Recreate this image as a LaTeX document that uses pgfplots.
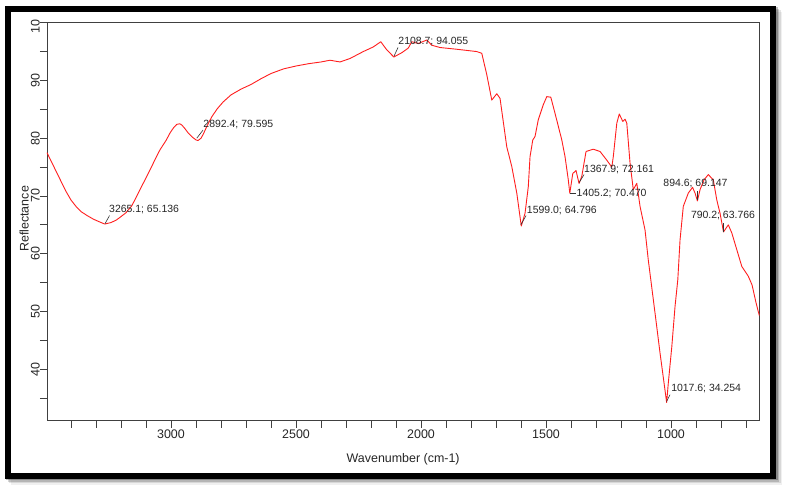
\documentclass[border=0pt]{standalone}
\usepackage{pgfplots}
\pgfplotsset{compat=1.18}
\usepackage{fontspec}
\setmainfont{Liberation Sans}
\definecolor{specred}{RGB}{255,30,30}
\begin{document}
\begin{tikzpicture}[x=1bp,y=1bp]
\useasboundingbox (0,0) rectangle (788,489);
\foreach \o/\op in {6/0.06,4.5/0.10,3/0.16,1.5/0.25}{
  \draw[line width=6bp, black, opacity=\op] (7.5+\o,480.1-\o) rectangle (773+\o,13.1-\o);
}
\fill[white] (7.5,480.1) rectangle (773,13.1);
\draw[line width=6bp, black] (7.5,480.1) rectangle (773,13.1);
\begin{axis}[
  at={(47bp,68.3bp)}, anchor=south west, scale only axis,
  width=712.3bp, height=398bp,
  x dir=reverse, xmin=647, xmax=3496, ymin=31.1, ymax=100,
  axis line style={draw=black!75, line width=0.8bp},
  xtick={1000,1500,2000,2500,3000}, minor xtick={700,800,...,3400},
  ytick={40,50,...,100}, minor ytick={35,45,...,95},
  yticklabels={40,50,60,70,80,90,10\phantom{0}},
  tick align=outside, xtick pos=left, ytick pos=left,
  major tick length=7bp, minor tick length=7bp,
  tick style={draw=black!75, line width=0.8bp},
  /pgf/number format/assume math mode=true,
  /pgf/number format/set thousands separator={},
  tick label style={font=\fontsize{12.5}{14}\selectfont, text=black!85},
  xticklabel style={yshift=1.5bp},
  yticklabel style={rotate=90, anchor=south, inner sep=0pt},
  xlabel={Wavenumber (cm-1)}, ylabel={Reflectance},
  label style={font=\fontsize{12.5}{14}\selectfont, text=black!85},
  xlabel style={at={(axis description cs:0.5,-0.0962)}, anchor=center},
  ylabel style={at={(axis description cs:-0.0253,0.507)}, anchor=south, inner sep=0pt},
  clip=false,
]
\addplot[specred, line width=0.9bp, line join=round] coordinates {
(3496,77.5) (3470,75.2) (3444,72.9) (3420,70.8) (3400,69.3) (3380,68.2)
(3360,67.3) (3335,66.6) (3311,66.0) (3285,65.5) (3265,65.14) (3240,65.4)
(3220,65.8) (3204,66.3) (3180,67.1) (3157,68.3) (3140,69.7) (3124,71.1)
(3104,72.8) (3084,74.5) (3064,76.3) (3044,78.0) (3020,79.6) (3004,80.9)
(2990,81.8) (2977,82.4) (2965,82.5) (2957,82.3) (2945,81.7) (2931,80.9)
(2915,80.2) (2900,79.7) (2892,79.6) (2880,80.0) (2871,80.7) (2855,82.2)
(2837,83.7) (2815,85.1) (2791,86.3) (2760,87.5) (2720,88.5) (2680,89.3)
(2640,90.3) (2600,91.2) (2550,92.0) (2500,92.5) (2450,92.9) (2400,93.2)
(2364,93.5) (2324,93.2) (2284,93.8) (2231,95.0) (2191,95.8) (2161,96.7)
(2137,95.3) (2108.7,94.06) (2077,94.8) (2051,95.6) (2037,96.7) (2011,96.4)
(1977,97.0) (1957,96.1) (1924,95.7) (1857,95.4) (1777,95.0) (1757,94.7)
(1737,91.0) (1717,86.6) (1697,87.7) (1684,86.9) (1657,78.5) (1637,75.1)
(1617,70.5) (1599,64.8) (1584,67.0) (1571,71.6) (1564,76.8) (1553,79.7)
(1544,80.3) (1531,83.2) (1511,85.8) (1497,87.2) (1481,87.1) (1464,84.3)
(1437,79.7) (1424,76.8) (1411,72.8) (1405,70.47) (1393,73.9) (1380,74.4)
(1368,72.16) (1357,73.4) (1340,77.7) (1311,78.1) (1284,77.7) (1257,76.2)
(1237,75.0) (1231,76.8) (1217,82.6) (1207,84.2) (1193,82.9) (1184,83.3)
(1177,82.6) (1164,75.7) (1151,71.1) (1137,72.2) (1124,68.2) (1104,64.1)
(1091,58.9) (1081,55.5) (1064,49.7) (1044,42.8) (1017.6,34.25) (1011,37.6)
(997,43.9) (984,50.9) (973,55.5) (964,62.4) (951,68.2) (931,70.5)
(914,71.5) (904,70.5) (894.6,69.15) (884,71.1) (868,72.8) (851,73.7)
(831,72.8) (817,69.3) (804,67.0) (790.2,63.77) (771,65.0) (757,63.6)
(737,60.7) (717,57.8) (691,56.1) (676,54.6) (660,51.5) (647,49.3)
};
\begin{scope}[every node/.style={font=\fontsize{10.5}{12}\selectfont, text=black!85, anchor=west, inner sep=0pt}]
\draw[black!80, line width=0.6bp] (axis cs:3264,65.2) -- (axis cs:3246,66.6);
\node at (axis cs:3248,67.6) {3265.1; 65.136};
\draw[black!80, line width=0.6bp] (axis cs:2897,80.0) -- (axis cs:2872,81.4);
\node at (axis cs:2871,82.3) {2892.4; 79.595};
\draw[black!80, line width=0.6bp] (axis cs:2108,94.2) -- (axis cs:2092,95.7);
\node at (axis cs:2091,96.7) {2108.7; 94.055};
\draw[black!80, line width=0.6bp] (axis cs:1601,65.0) -- (axis cs:1580,66.6);
\node at (axis cs:1577,67.5) {1599.0; 64.796};
\draw[black!80, line width=0.6bp] (axis cs:1404,70.5) -- (axis cs:1382,70.5);
\node at (axis cs:1378,70.4) {1405.2; 70.470};
\draw[black!80, line width=0.6bp] (axis cs:1368,72.3) -- (axis cs:1348,73.7);
\node at (axis cs:1348,74.6) {1367.9; 72.161};
\draw[black!80, line width=0.6bp] (axis cs:895,69.3) -- (axis cs:895,70.9);
\node at (axis cs:1031,72.1) {894.6; 69.147};
\draw[black!80, line width=0.6bp] (axis cs:790,63.8) -- (axis cs:790,65.4);
\node at (axis cs:921,66.7) {790.2; 63.766};
\draw[black!80, line width=0.6bp] (axis cs:1018,34.4) -- (axis cs:1004,35.6);
\node at (axis cs:1000,36.7) {1017.6; 34.254};
\end{scope}
\end{axis}
\end{tikzpicture}
\end{document}
